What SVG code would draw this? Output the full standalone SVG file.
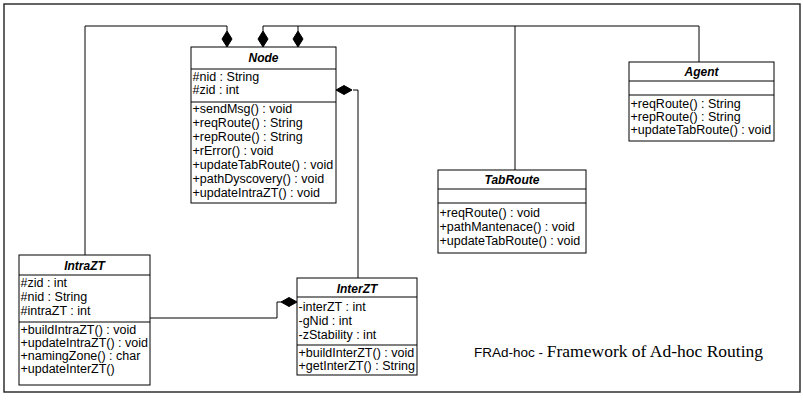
<svg xmlns="http://www.w3.org/2000/svg" width="803" height="400" viewBox="0 0 803 400">
<style>
.box{fill:#fff;stroke:#000;stroke-width:1}
.div{stroke:#000;stroke-width:1}
.t{font-family:"Liberation Sans",Arial,sans-serif;font-size:12.5px;fill:#000}
.n{font-family:"Liberation Sans",Arial,sans-serif;font-size:12px;font-weight:bold;font-style:italic;fill:#000}
.c{fill:none;stroke:#000;stroke-width:1}
.d{fill:#000;stroke:#000;stroke-width:1}
.frame{fill:none;stroke:#222;stroke-width:1.4}
</style>
<rect class="frame" x="4" y="4" width="796" height="388"/>
<g id="connectors">
<polyline class="c" points="85,255 85,26 227,26 227,31"/>
<polyline class="c" points="263,31 263,26 699,26 699,62"/>
<line class="c" x1="298" y1="26" x2="298" y2="31"/>
<line class="c" x1="515" y1="26" x2="515" y2="170"/>
<polyline class="c" points="353,90 358,90 358,278"/>
<polyline class="c" points="150,318 277,318 277,302 281,302"/>
<path class="d" d="M227,47 l-5,-8 l5,-8 l5,8 z"/>
<path class="d" d="M263,47 l-5,-8 l5,-8 l5,8 z"/>
<path class="d" d="M298,47 l-5,-8 l5,-8 l5,8 z"/>
<path class="d" d="M336,90 l8,-4.5 l8,4.5 l-8,4.5 z"/>
<path class="d" d="M297,302 l-8,-4.5 l-8,4.5 l8,4.5 z"/>
</g>
<g id="node-Node">
<rect class="box" x="191" y="47" width="145" height="156"/>
<line class="div" x1="191" y1="69" x2="336" y2="69"/>
<line class="div" x1="191" y1="102" x2="336" y2="102"/>
<text class="n" x="263.5" y="62" text-anchor="middle">Node</text>
<text class="t" x="192.5" y="81">#nid : String</text>
<text class="t" x="192.5" y="94">#zid : int</text>
<text class="t" x="192.5" y="113">+sendMsg() : void</text>
<text class="t" x="192.5" y="127">+reqRoute() : String</text>
<text class="t" x="192.5" y="141">+repRoute() : String</text>
<text class="t" x="192.5" y="155">+rError() : void</text>
<text class="t" x="192.5" y="169">+updateTabRoute() : void</text>
<text class="t" x="192.5" y="183">+pathDyscovery() : void</text>
<text class="t" x="192.5" y="197">+updateIntraZT() : void</text>
</g>
<g id="node-IntraZT">
<rect class="box" x="19" y="255" width="131" height="130"/>
<line class="div" x1="19" y1="275" x2="150" y2="275"/>
<line class="div" x1="19" y1="322" x2="150" y2="322"/>
<text class="n" x="84.5" y="270" text-anchor="middle">IntraZT</text>
<text class="t" x="20.5" y="287">#zid : int</text>
<text class="t" x="20.5" y="301">#nid : String</text>
<text class="t" x="20.5" y="315">#intraZT : int</text>
<text class="t" x="20.5" y="334">+buildIntraZT() : void</text>
<text class="t" x="20.5" y="347">+updateIntraZT() : void</text>
<text class="t" x="20.5" y="360">+namingZone() : char</text>
<text class="t" x="20.5" y="373">+updateInterZT()</text>
</g>
<g id="node-InterZT">
<rect class="box" x="297" y="278" width="120" height="97"/>
<line class="div" x1="297" y1="297" x2="417" y2="297"/>
<line class="div" x1="297" y1="345" x2="417" y2="345"/>
<text class="n" x="357" y="293" text-anchor="middle">InterZT</text>
<text class="t" x="298.5" y="311">-interZT : int</text>
<text class="t" x="298.5" y="325">-gNid : int</text>
<text class="t" x="298.5" y="339">-zStability : int</text>
<text class="t" x="298.5" y="357">+buildInterZT() : void</text>
<text class="t" x="298.5" y="370">+getInterZT() : String</text>
</g>
<g id="node-TabRoute">
<rect class="box" x="438" y="170" width="148" height="83"/>
<line class="div" x1="438" y1="189" x2="586" y2="189"/>
<line class="div" x1="438" y1="203" x2="586" y2="203"/>
<text class="n" x="512" y="184" text-anchor="middle">TabRoute</text>
<text class="t" x="439.5" y="217">+reqRoute() : void</text>
<text class="t" x="439.5" y="231">+pathMantenace() : void</text>
<text class="t" x="439.5" y="245">+updateTabRoute() : void</text>
</g>
<g id="node-Agent">
<rect class="box" x="629" y="62" width="145" height="79"/>
<line class="div" x1="629" y1="81" x2="774" y2="81"/>
<line class="div" x1="629" y1="95" x2="774" y2="95"/>
<text class="n" x="701.5" y="76" text-anchor="middle">Agent</text>
<text class="t" x="630.5" y="108">+reqRoute() : String</text>
<text class="t" x="630.5" y="121">+repRoute() : String</text>
<text class="t" x="630.5" y="134">+updateTabRoute() : void</text>
</g>
<text x="474" y="357" font-family="'Liberation Sans',Arial,sans-serif" font-size="13.5" fill="#000">FRAd-hoc - <tspan font-family="'Liberation Serif','Times New Roman',serif" font-size="17.5">Framework of Ad-hoc Routing</tspan></text>
</svg>
